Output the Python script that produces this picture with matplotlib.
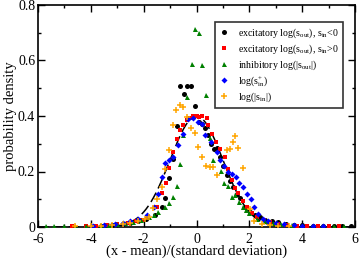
import numpy as np
import matplotlib
matplotlib.use("Agg")
import matplotlib.pyplot as plt
from matplotlib.ticker import MultipleLocator, FuncFormatter

plt.rcParams['font.family'] = ['Liberation Serif', 'DejaVu Serif']
plt.rcParams['mathtext.fontset'] = 'custom'
plt.rcParams['mathtext.rm'] = 'Liberation Serif'
plt.rcParams['mathtext.it'] = 'Liberation Serif:italic'
plt.rcParams['axes.unicode_minus'] = False

# excitatory log(s_out), s_in<0
exc_neg_x = [-3.6, -3.2, -2.8, -2.5, -2.2, -1.9, -1.57, -1.32, -1.19, -1.03, -0.89, -0.75, -0.63, -0.49,
             -0.35, -0.21, -0.06, 0.1, 0.2, 0.32, 0.45, 0.55, 0.67, 0.76, 0.89, 1.0, 1.14, 1.27, 1.39,
             1.52, 1.65, 1.83, 2.02, 2.2, 2.4, 2.6, 2.85, 3.1, 3.4, 3.7, 4.0, 4.4, 4.8, 5.2, 5.5, 5.85]
exc_neg_y = [0.003, 0.006, 0.010, 0.015, 0.022, 0.030, 0.043, 0.073, 0.103, 0.175, 0.245, 0.365, 0.508, 0.479,
             0.508, 0.508, 0.436, 0.377, 0.370, 0.356, 0.330, 0.300, 0.280, 0.284, 0.253, 0.220, 0.187, 0.165, 0.145,
             0.120, 0.103, 0.073, 0.055, 0.045, 0.035, 0.027, 0.020, 0.018, 0.012, 0.008, 0.006, 0.004, 0.003, 0.002, 0.002, 0.002]

# excitatory log(s_out), s_in>0
exc_pos_x = [-4.7, -4.2, -3.8, -3.4, -3.0, -2.6, -2.3, -2.05, -1.82, -1.48, -1.32, -1.17, -1.04, -0.88, -0.75,
             -0.63, -0.5, -0.37, -0.25, -0.12, 0.0, 0.1, 0.22, 0.38, 0.45, 0.6, 0.73, 0.9, 1.08, 1.2, 1.33,
             1.45, 1.58, 1.75, 1.9, 2.09, 2.3, 2.55, 2.8, 3.1, 3.4, 3.8, 4.2, 4.6, 5.0, 5.4]
exc_pos_y = [0.002, 0.003, 0.004, 0.006, 0.010, 0.015, 0.020, 0.027, 0.037, 0.073, 0.124, 0.160, 0.211, 0.270, 0.317,
             0.350, 0.368, 0.386, 0.393, 0.400, 0.400, 0.395, 0.400, 0.392, 0.368, 0.335, 0.307, 0.280, 0.253, 0.210, 0.169,
             0.140, 0.121, 0.095, 0.073, 0.049, 0.036, 0.025, 0.017, 0.012, 0.008, 0.005, 0.004, 0.003, 0.002, 0.002]

# inhibitory log(|s_out|)
inh_x = [-5.7, -5.4, -5.0, -4.6, -4.2, -3.9, -3.6, -3.3, -3.0, -2.7, -2.4, -2.1, -1.8, -1.6, -1.45, -1.19,
         -1.03, -0.9, -0.75, -0.63, -0.5, -0.35, -0.18, -0.06, 0.08, 0.19, 0.36, 0.5, 0.63, 0.91, 1.05,
         1.2, 1.33, 1.46, 1.6, 1.77, 1.87, 2.0, 2.3, 2.6, 2.9, 3.2, 3.6, 4.0, 4.4, 4.8, 5.2, 5.6]
inh_y = [0.003, 0.003, 0.003, 0.003, 0.004, 0.005, 0.006, 0.008, 0.010, 0.015, 0.018, 0.025, 0.035, 0.045, 0.055, 0.073,
         0.088, 0.109, 0.148, 0.227, 0.331, 0.470, 0.587, 0.714, 0.698, 0.584, 0.476, 0.320, 0.240, 0.203, 0.160,
         0.148, 0.107, 0.115, 0.090, 0.073, 0.061, 0.050, 0.030, 0.020, 0.015, 0.010, 0.007, 0.005, 0.004, 0.003, 0.003, 0.003]

# log(s_in^+)
sp_x = [-3.9, -3.5, -3.1, -2.8, -2.5, -2.2, -1.89, -1.61, -1.45, -1.32, -1.19, -1.05, -0.88, -0.71, -0.52,
        -0.31, -0.12, 0.07, 0.2, 0.32, 0.55, 0.76, 0.89, 1.05, 1.2, 1.33, 1.48, 1.62, 1.75, 1.9, 2.05,
        2.19, 2.31, 2.5, 2.7, 3.0, 3.3, 3.7, 4.0, 4.4, 4.8]
sp_y = [0.003, 0.006, 0.010, 0.014, 0.020, 0.030, 0.043, 0.073, 0.120, 0.181, 0.232, 0.240, 0.253, 0.295, 0.335,
        0.388, 0.393, 0.380, 0.370, 0.331, 0.307, 0.271, 0.240, 0.220, 0.200, 0.190, 0.180, 0.160, 0.145, 0.120, 0.100,
        0.072, 0.047, 0.030, 0.022, 0.015, 0.010, 0.006, 0.004, 0.003, 0.002]

# log(|s_in|)
sa_x = [-4.6, -4.0, -3.6, -3.2, -2.8, -2.5, -2.2, -1.95, -1.79, -1.66, -1.5, -1.32, -1.18, -1.03, -0.89,
        -0.78, -0.63, -0.5, -0.35, -0.22, -0.06, 0.07, 0.2, 0.36, 0.5, 0.64, 0.76, 1.14, 1.27, 1.37, 1.46,
        1.58, 1.77, 2.02, 2.18, 2.47, 2.8, 3.1, 3.5]
sa_y = [0.002, 0.003, 0.004, 0.006, 0.010, 0.013, 0.020, 0.030, 0.037, 0.067, 0.100, 0.145, 0.210, 0.277, 0.368,
        0.420, 0.440, 0.434, 0.395, 0.356, 0.340, 0.290, 0.251, 0.220, 0.217, 0.217, 0.187, 0.277, 0.280, 0.307, 0.328,
        0.284, 0.211, 0.064, 0.023, 0.011, 0.006, 0.004, 0.003]

labels = [r"excitatory log(s$_{\rm out}$), s$_{\rm in}$<0",
          r"excitatory log(s$_{\rm out}$), s$_{\rm in}$>0",
          r"inhibitory log(|s$_{\rm out}$|)",
          r"log(s$_{\rm in}^{+}$)",
          r"log(|s$_{\rm in}$|)"]

fig = plt.figure(figsize=(3.6, 2.58), dpi=100)
ax = fig.add_axes([38/360, 1-227/258, 317/360, 222/258])

gx = np.linspace(-6, 6, 400)
ax.plot(gx, np.exp(-gx**2/2)/np.sqrt(2*np.pi), color='black', lw=1.1, dashes=(7, 3), zorder=3)

ms = 3.6
ax.plot(exc_neg_x, exc_neg_y, 'o', color='black', ms=ms, mew=0, label=labels[0], zorder=4)
ax.plot(exc_pos_x, exc_pos_y, 's', color='#ff0000', ms=ms*0.9, mew=0, label=labels[1], zorder=4)
ax.plot(inh_x, inh_y, '^', color='#008000', ms=ms, mew=0, label=labels[2], zorder=4)
ax.plot(sp_x, sp_y, 'D', color='#0000ff', ms=ms*0.85, mew=0, label=labels[3], zorder=4)
ax.plot(sa_x, sa_y, '+', color='#ffa500', ms=ms*1.3, mew=1.1, label=labels[4], zorder=4)

ax.set_xlim(-6, 6)
ax.set_ylim(0, 0.8)
ax.xaxis.set_major_locator(MultipleLocator(2))
ax.xaxis.set_minor_locator(MultipleLocator(1))
ax.yaxis.set_major_locator(MultipleLocator(0.2))
ax.yaxis.set_minor_locator(MultipleLocator(0.1))
ax.yaxis.set_major_formatter(FuncFormatter(lambda v, p: '%g' % round(v, 3)))
ax.xaxis.set_major_formatter(FuncFormatter(lambda v, p: '%g' % v))
ax.tick_params(which='both', direction='in', top=True, right=True, labelsize=10, width=1)
ax.tick_params(axis='x', pad=4)
ax.tick_params(axis='y', pad=2)
ax.tick_params(which='major', length=5)
ax.tick_params(which='minor', length=2.5)
for s in ax.spines.values():
    s.set_linewidth(1.2)

ax.set_xlabel("(x - mean)/(standard deviation)", fontsize=10.5)
ax.xaxis.set_label_coords(0.5, -0.078)
ax.set_ylabel("probability density", fontsize=10.5, labelpad=1)

leg = ax.legend(loc='upper right', bbox_to_anchor=(0.962, 0.925), fontsize=7.1, frameon=True,
                fancybox=False, framealpha=1, edgecolor='#333333', borderpad=0.45,
                labelspacing=0.25, handlelength=1.0, handletextpad=0.9, borderaxespad=0)
leg.get_frame().set_linewidth(1.2)

fig.savefig("out.png", dpi=100)
